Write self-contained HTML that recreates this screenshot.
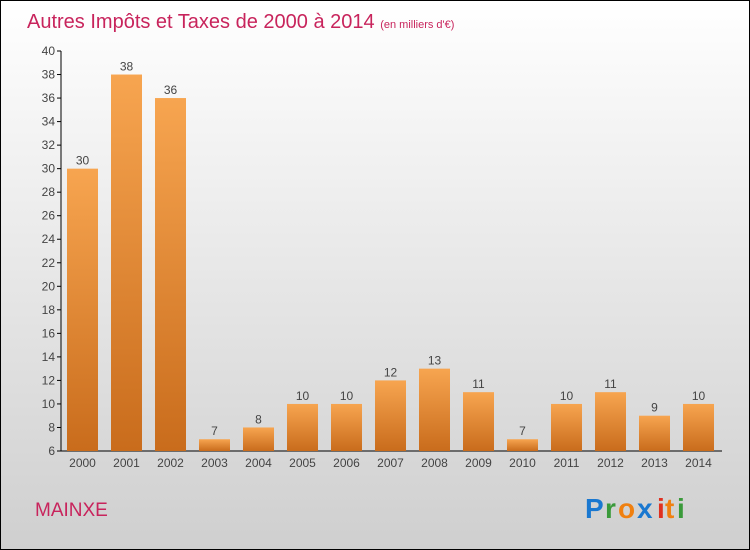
<!DOCTYPE html>
<html><head><meta charset="utf-8"><style>
body{margin:0}
#c{position:relative;width:748px;height:548px;border:1px solid #000;background:linear-gradient(#ffffff,#cfcfcf);font-family:"Liberation Sans",sans-serif;overflow:hidden}
</style></head><body>
<div id="c">
<svg width="748" height="548" style="position:absolute;left:0;top:0">
<defs><linearGradient id="g" x1="0" y1="0" x2="0" y2="1"><stop offset="0" stop-color="#f7a550"/><stop offset="1" stop-color="#c96c1c"/></linearGradient></defs>
<text x="26" y="27" font-size="20" fill="#c8245c">Autres Impôts et Taxes de 2000 à 2014 <tspan font-size="11">(en milliers d'€)</tspan></text>
<text x="34" y="515" font-size="19" fill="#c8245c">MAINXE</text>
<g id="plot"></g>
<g font-size="28" font-weight="bold">
<text x="584" y="517" fill="#1a78d0">P</text><text x="604" y="517" fill="#3a9a3a">r</text><text x="617" y="517" fill="#f08010">o</text><text x="636" y="517" fill="#1a78d0">x</text><text x="656" y="517" fill="#e03020">i</text><text x="664" y="517" fill="#f08010">t</text><text x="676" y="517" fill="#3a9a3a">i</text>
</g>
</svg>
</div>
<script>
const years=["2000","2001","2002","2003","2004","2005","2006","2007","2008","2009","2010","2011","2012","2013","2014"];
const values=[30,38,36,7,8,10,10,12,13,11,7,10,11,9,10];
const yTicks=[6,8,10,12,14,16,18,20,22,24,26,28,30,32,34,36,38,40];
const ns="http://www.w3.org/2000/svg",p=document.getElementById('plot');
const y=v=>450-(v-6)*400/34, x=i=>66+i*44;
function mk(t,a,txt){const e=document.createElementNS(ns,t);for(const k in a)e.setAttribute(k,a[k]);if(txt!=null)e.textContent=txt;p.appendChild(e);return e;}
let e=mk('line',{x1:60,y1:50,x2:60,y2:450,stroke:'#000'});


e=mk('line',{x1:60,y1:450,x2:721,y2:450,stroke:'#000'});


yTicks.forEach(v=>{mk('line',{x1:56,x2:60,y1:y(v),y2:y(v),stroke:'#000'});
const t=mk('text',{x:54,y:y(v)+4,'font-size':12,'text-anchor':'end',fill:'#444'},v);

});
values.forEach((v,i)=>{const r=mk('rect',{x:x(i),y:y(v),width:31,height:450-y(v),fill:'url(#g)'});


const l=mk('text',{x:x(i)+15.5,y:y(v)-4,'font-size':12,'text-anchor':'middle',fill:'#444'},v);


const t=mk('text',{x:x(i)+15.5,y:466,'font-size':12,'text-anchor':'middle',fill:'#444'},years[i]);

});
</script>
</body></html>
